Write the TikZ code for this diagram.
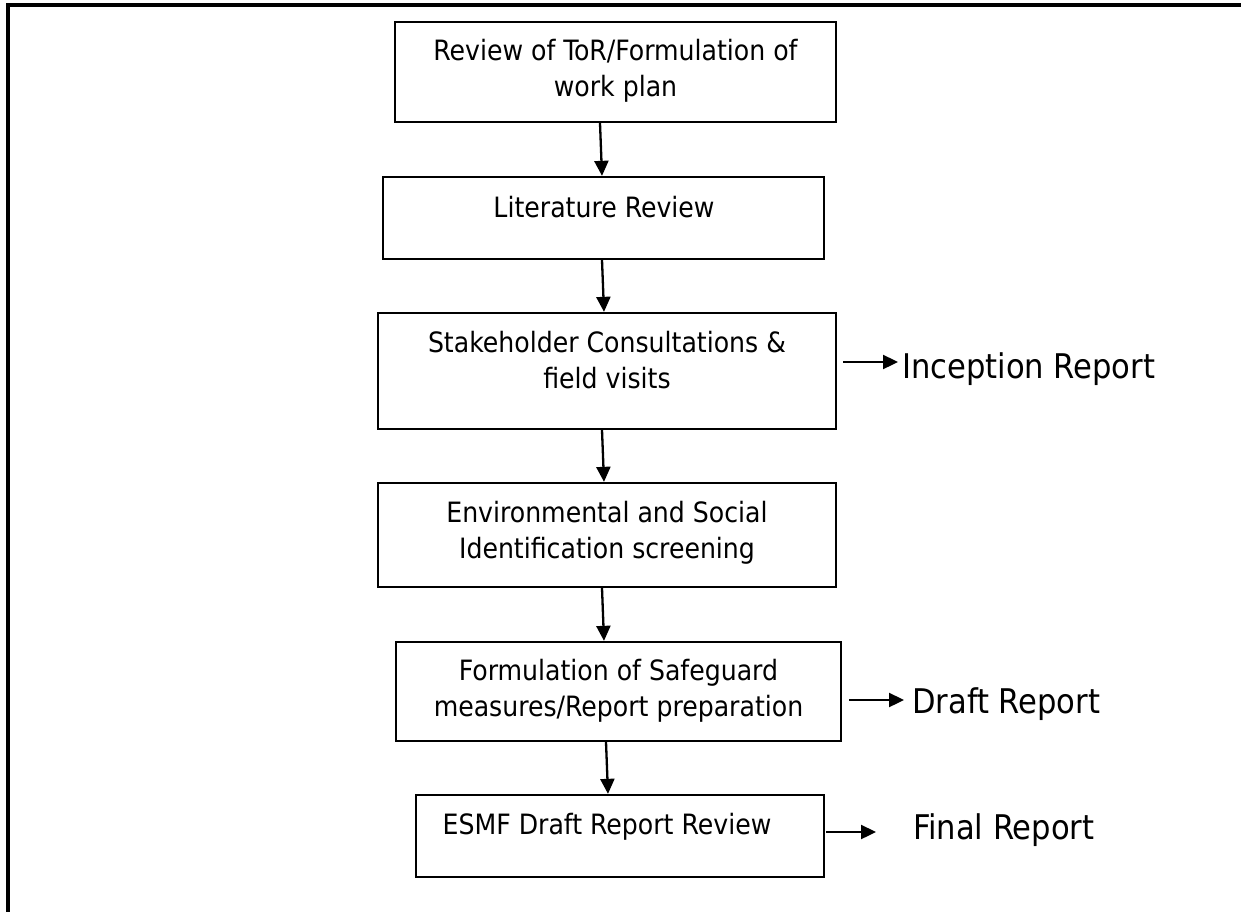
\documentclass[tikz,border=0pt]{standalone}
\usepackage{fontspec}
\setmainfont{DejaVu Sans Condensed}
\usetikzlibrary{arrows.meta}
\begin{document}
\begin{tikzpicture}[x=1pt,y=-1pt,
  stepbox/.style={draw=black,line width=2.3pt,inner sep=0pt},
  boxtext/.style={inner sep=0pt,align=center,font=\fontsize{28}{36}\selectfont,anchor=base},
  rl/.style={inner sep=0pt,font=\fontsize{34}{40}\selectfont,anchor=base west},
  arr/.style={line width=2.3pt,-{Triangle[length=15pt,width=14pt]}}]
\useasboundingbox (0,0) rectangle (1241,912);
\draw[line width=3.2pt] (8,912) -- (8,5) -- (1241,5);
% boxes
\node[stepbox,minimum width=441pt,minimum height=100pt] (b1) at (615.5,72) {};
\node[stepbox,minimum width=441pt,minimum height=82pt] (b2) at (603.5,218) {};
\node[stepbox,minimum width=458pt,minimum height=116pt] (b3) at (607,371) {};
\node[stepbox,minimum width=458pt,minimum height=104pt] (b4) at (607,535) {};
\node[stepbox,minimum width=445pt,minimum height=99pt] (b5) at (618.5,691.5) {};
\node[stepbox,minimum width=408pt,minimum height=82pt] (b6) at (620,836) {};
% texts (base = baseline of the last line)
\node[boxtext] (t1) at (615.5,97) {Review of ToR/Formulation of\\work plan};
\node[boxtext] (t2) at (604,217) {Literature Review};
\node[boxtext] (t3) at (607,388) {Stakeholder Consultations \&\\field visits};
\node[boxtext] (t4) at (607,558) {Environmental and Social\\Identification screening};
\node[boxtext] (t5) at (618.5,716) {Formulation of Safeguard\\measures/Report preparation};
\node[boxtext] (t6) at (607,834) {ESMF Draft Report Review};
% vertical arrows
\draw[arr] ([xshift=-15.5pt]b1.south) -- ([xshift=-1.5pt]b2.north);
\draw[arr] ([xshift=-1.5pt]b2.south) -- ([xshift=-3pt]b3.north);
\draw[arr] ([xshift=-5pt]b3.south) -- ([xshift=-3pt]b4.north);
\draw[arr] ([xshift=-5pt]b4.south) -- ([xshift=-14.5pt]b5.north);
\draw[arr] ([xshift=-12.5pt]b5.south) -- ([xshift=-12pt]b6.north);
% outputs
\node[rl] (inc) at (902,378) {Inception Report};
\node[rl] (dra) at (912,713) {Draft Report};
\node[rl] (fin) at (913,839) {Final Report};
\draw[arr,shorten >=10pt] ([xshift=6pt,yshift=9pt]b3.east) -- ([xshift=6pt,yshift=9pt]b3.east -| inc.west);
\draw[arr,shorten >=15pt] ([xshift=7pt,yshift=-8.5pt]b5.east) -- ([xshift=7pt,yshift=-8.5pt]b5.east -| dra.west);
\draw[arr,shorten >=38pt] ([xshift=1pt,yshift=4pt]b6.east) -- ([xshift=1pt,yshift=4pt]b6.east -| fin.west);
\end{tikzpicture}
\end{document}
